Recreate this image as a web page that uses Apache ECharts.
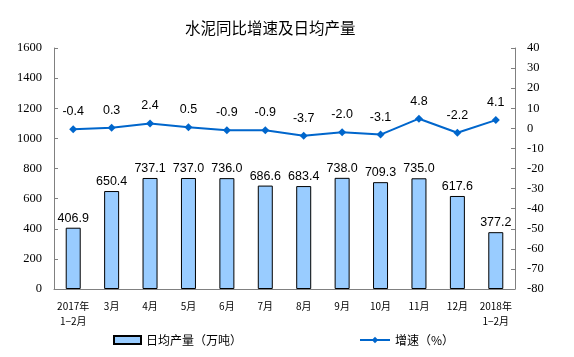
<!DOCTYPE html>
<html><head><meta charset="utf-8">
<script src="https://cdn.jsdelivr.net/npm/echarts@6/dist/echarts.min.js"></script>
<style>html,body{margin:0;padding:0;background:#fff}#c{width:574px;height:357px}</style>
</head><body><div id="c"></div>
<script>
var categories = ['2017年\n1−2月','3月','4月','5月','6月','7月','8月','9月','10月','11月','12月','2018年\n1−2月'];
var output = [406.9, 650.4, 737.1, 737.0, 736.0, 686.6, 683.4, 738.0, 709.3, 735.0, 617.6, 377.2];
var growth = [-0.4, 0.3, 2.4, 0.5, -0.9, -0.9, -3.7, -2.0, -3.1, 4.8, -2.2, 4.1];
var seriesNames = ['日均产量（万吨）', '增速（%）'];
var titleText = '水泥同比增速及日均产量';

var chart = echarts.init(document.getElementById('c'));
var cjk = '"Noto Sans CJK SC", sans-serif';
var serif = 'Liberation Serif';
chart.setOption({
  animation: false,
  backgroundColor: '#fff',
  title: { text: titleText, left: 185, top: 20, padding: 0,
    textStyle: { fontFamily: cjk, fontSize: 15.5, fontWeight: 'normal', color: '#000' } },
  grid: { left: 54, right: 59, top: 48, bottom: 68 },
  legend: [
    { data: [{ name: seriesNames[0], icon: 'rect' }], left: 113, top: 334, padding: 0, itemWidth: 27, itemHeight: 8, itemGap: 6,
      textStyle: { fontFamily: cjk, fontSize: 12, color: '#000' } },
    { data: [seriesNames[1]], left: 359, top: 334, padding: 0, itemWidth: 30, itemHeight: 8,
      textStyle: { fontFamily: cjk, fontSize: 12, color: '#000' } }
  ],
  xAxis: {
    type: 'category', data: categories, boundaryGap: true,
    axisLine: { lineStyle: { color: '#808080', width: 1 } },
    axisTick: { inside: true, length: 4, lineStyle: { color: '#808080' } },
    axisLabel: { fontFamily: cjk, fontSize: 10, color: '#000', margin: 10, lineHeight: 15, interval: 0 }
  },
  yAxis: [
    { type: 'value', min: 0, max: 1600, interval: 200,
      axisLine: { show: true, lineStyle: { color: '#808080' } },
      axisTick: { show: true, inside: true, length: 4, lineStyle: { color: '#808080' } },
      splitLine: { show: false },
      axisLabel: { fontFamily: serif, fontSize: 12.5, color: '#000', margin: 12,
        formatter: function(v){ return String(v); } } },
    { type: 'value', min: -80, max: 40, interval: 10, position: 'right',
      axisLine: { show: true, lineStyle: { color: '#808080' } },
      axisTick: { show: true, inside: true, length: 4, lineStyle: { color: '#808080' } },
      splitLine: { show: false },
      axisLabel: { fontFamily: serif, fontSize: 12.5, color: '#000', margin: 12,
        formatter: function(v){ return String(v); } } }
  ],
  series: [
    { name: seriesNames[0], type: 'bar', yAxisIndex: 0, data: output, barWidth: 15,
      itemStyle: { color: '#99CCFF', borderColor: '#000', borderWidth: 1 },
      label: { show: true, position: 'top', distance: 3, fontFamily: '"Liberation Sans", Arial, sans-serif', fontSize: 12.5, color: '#000',
        formatter: function(p){ return p.value.toFixed(1); } } },
    { name: seriesNames[1], type: 'line', yAxisIndex: 1, data: growth,
      symbol: 'diamond', symbolSize: 8,
      lineStyle: { color: '#0066CC', width: 2 }, itemStyle: { color: '#0066CC' },
      label: { show: true, position: 'top', distance: 7, fontFamily: '"Liberation Sans", Arial, sans-serif', fontSize: 12.5, color: '#000',
        formatter: function(p){ return p.value.toFixed(1); } } }
  ]
});
</script></body></html>
